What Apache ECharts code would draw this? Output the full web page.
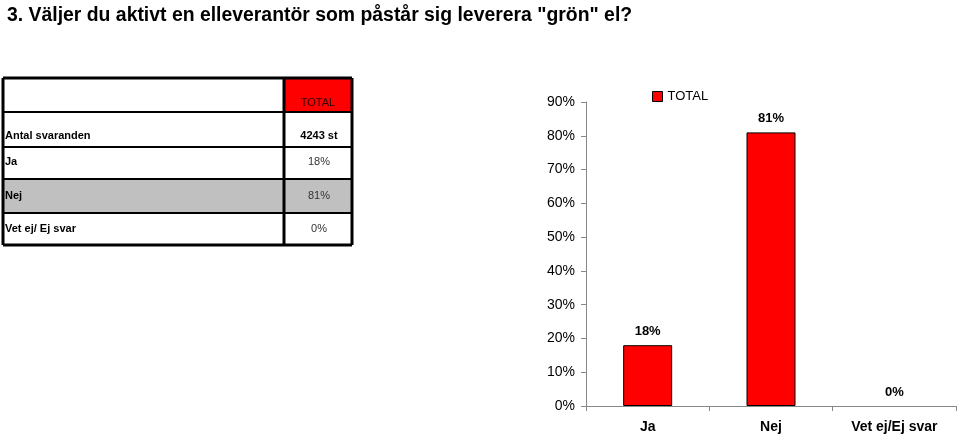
<!DOCTYPE html>
<html><head><meta charset="utf-8">
<script src="https://cdn.jsdelivr.net/npm/echarts@6/dist/echarts.min.js"></script>
<style>html,body{margin:0;padding:0;background:#fff}#c{width:959px;height:437px}</style>
</head><body><div id="c"></div>
<script>
var titleText = '3. Väljer du aktivt en elleverantör som påstår sig leverera "grön" el?';
var categories = ['Ja', 'Nej', 'Vet ej/Ej svar'];
var seriesName = 'TOTAL';
var values = [18, 81, 0];
var yTicks = [0, 10, 20, 30, 40, 50, 60, 70, 80, 90];
var tableLabels = ['Antal svaranden', 'Ja', 'Nej', 'Vet ej/ Ej svar'];
var tableValues = ['4243 st', '18%', '81%', '0%'];

var FONT = '"Liberation Sans", Arial, sans-serif';
var chart = echarts.init(document.getElementById('c'), null, {renderer: 'canvas'});

// table geometry
var tx0 = 3, tx1 = 352, tcol = 284;
var rowY = [78, 112, 147, 179, 213, 245];
var g = [];
g.push({type: 'rect', shape: {x: tcol, y: rowY[0], width: tx1 - tcol, height: rowY[1] - rowY[0]}, style: {fill: '#ff0000'}});
g.push({type: 'rect', shape: {x: tx0, y: rowY[3], width: tx1 - tx0, height: rowY[4] - rowY[3]}, style: {fill: '#c0c0c0'}});
for (var i = 0; i < rowY.length; i++) {
  g.push({type: 'line', shape: {x1: tx0, y1: rowY[i], x2: tx1, y2: rowY[i]}, style: {stroke: '#000', lineWidth: (i === 0 || i === rowY.length - 1) ? 3 : 2}});
}
[tx0, tcol, tx1].forEach(function (x) {
  g.push({type: 'line', shape: {x1: x, y1: rowY[0], x2: x, y2: rowY[rowY.length - 1]}, style: {stroke: '#000', lineWidth: 3}});
});
g.push({type: 'text', x: (tcol + tx1) / 2, y: 103, style: {text: seriesName, font: '11px ' + FONT, fill: '#330000', align: 'center', verticalAlign: 'middle'}});
var textY = [136, 162, 196, 229];
for (var r = 0; r < tableLabels.length; r++) {
  g.push({type: 'text', x: 5, y: textY[r], style: {text: tableLabels[r], font: 'bold 11px ' + FONT, fill: '#000', verticalAlign: 'middle'}});
  g.push({type: 'text', x: (tcol + tx1) / 2 + 1, y: textY[r], style: {text: tableValues[r], font: (r === 0 ? 'bold ' : '') + '11px ' + FONT, fill: r === 0 ? '#000' : '#333', align: 'center', verticalAlign: 'middle'}});
}

var barData = values.map(function (v) {
  return v === 0 ? {value: v, itemStyle: {borderWidth: 0}} : v;
});

chart.setOption({
  animation: false,
  backgroundColor: '#fff',
  title: {text: titleText, left: 2, top: 1, textStyle: {fontFamily: FONT, fontSize: 19.4, fontWeight: 'bold', color: '#000'}},
  legend: {data: [seriesName], left: 647, top: 85, itemWidth: 10, itemHeight: 10, itemGap: 3, icon: 'rect',
    textStyle: {fontFamily: FONT, fontSize: 13, color: '#000', padding: [0, 0, 0, 0]},
    itemStyle: {borderColor: '#000', borderWidth: 1}},
  grid: {left: 586, right: 3, top: 102, bottom: 31, containLabel: false},
  xAxis: {type: 'category', data: categories,
    axisLine: {lineStyle: {color: '#888', width: 1}},
    axisTick: {show: true, length: 5, lineStyle: {color: '#888'}},
    axisLabel: {fontFamily: FONT, fontSize: 14, fontWeight: 'bold', color: '#000', margin: 14}},
  yAxis: {type: 'value', min: yTicks[0], max: yTicks[yTicks.length - 1], interval: yTicks[1] - yTicks[0],
    axisLine: {show: true, lineStyle: {color: '#888', width: 1}},
    axisTick: {show: true, length: 5, lineStyle: {color: '#888'}},
    splitLine: {show: false},
    axisLabel: {fontFamily: FONT, fontSize: 14, color: '#000', margin: 11, formatter: '{value}%'}},
  series: [{name: seriesName, type: 'bar', data: barData, barWidth: 49,
    itemStyle: {color: '#ff0000', borderColor: '#000', borderWidth: 1},
    label: {show: true, position: 'top', distance: 7, formatter: '{c}%', fontFamily: FONT, fontSize: 13, fontWeight: 'bold', color: '#000'}}],
  graphic: g
});
</script></body></html>
